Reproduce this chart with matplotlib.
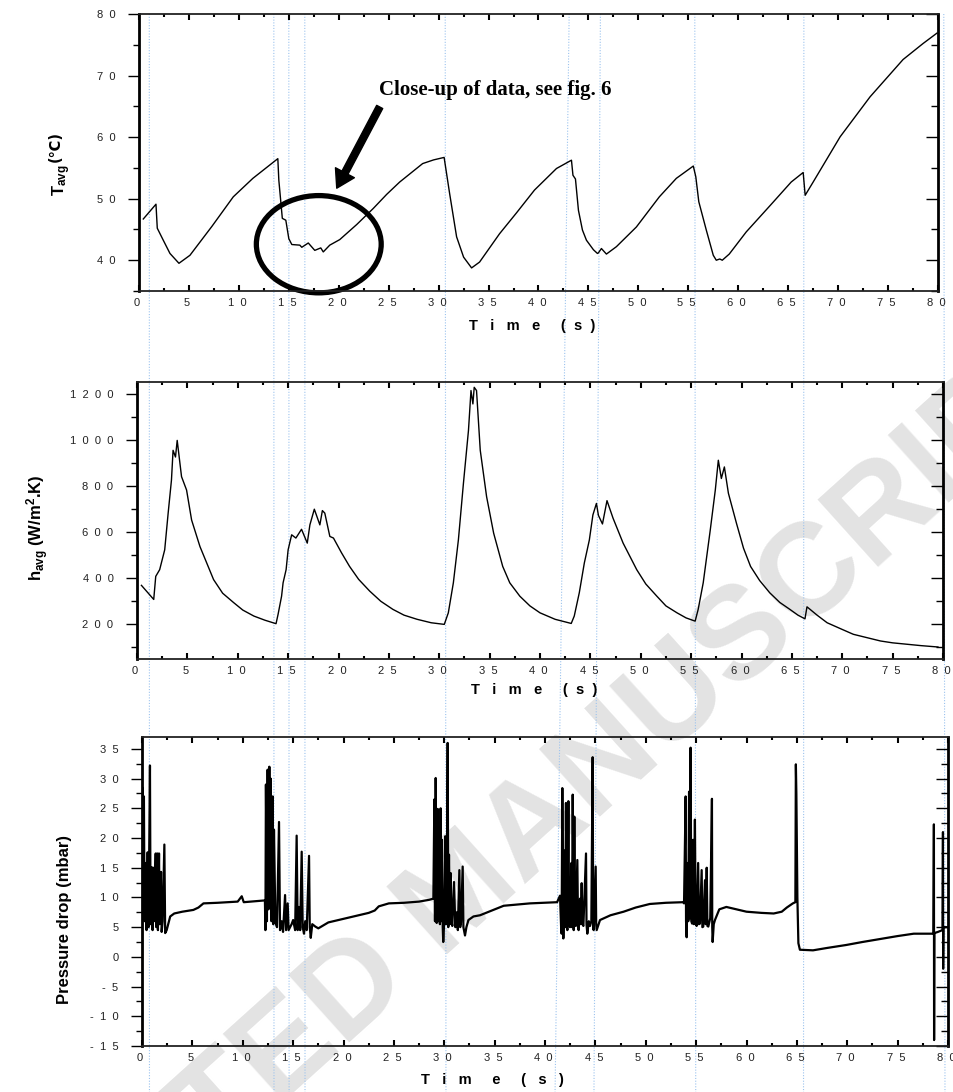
import matplotlib
matplotlib.use('Agg')
import matplotlib.pyplot as plt
from matplotlib.ticker import MultipleLocator, FuncFormatter
from matplotlib.patches import Ellipse
from matplotlib.lines import Line2D

plt.rcParams['font.family'] = ['Liberation Sans', 'DejaVu Sans']
plt.rcParams['mathtext.fontset'] = 'custom'
plt.rcParams['mathtext.rm'] = 'Liberation Sans'
plt.rcParams['mathtext.bf'] = 'Liberation Sans:bold'
plt.rcParams['mathtext.it'] = 'Liberation Sans:italic'

# ---------------- data ----------------
t_T = [0.43, 1.7, 1.83, 2.43, 3.1, 4.0, 5.1, 7.3, 9.44, 11.4, 13.9, 14.0, 14.35, 14.7,
       15.0, 15.3, 16.1, 16.3, 16.95, 17.6, 18.2, 18.45, 19.1, 20.1, 21.8, 23.45, 24.8,
       26.1, 28.4, 29.5, 30.55, 31.1, 31.8, 32.5, 33.3, 34.1, 36.1, 37.8, 39.6, 41.8, 43.3,
       43.45, 43.7, 44.0, 44.4, 44.8, 45.5, 45.9, 46.0, 46.3, 46.8, 47.8, 49.8, 52.1, 53.8,
       55.5, 55.75, 56.05, 56.8, 57.5, 57.8, 58.15, 58.4, 59.1, 60.8, 63.2, 65.3, 66.5,
       66.7, 67.5, 70.2, 73.2, 76.5, 78.5, 79.9]
T_avg = [46.7, 49.1, 45.2, 43.25, 41.1, 39.5, 40.8, 45.5, 50.3, 53.3, 56.5, 53.0, 46.8, 46.5,
         43.5, 42.55, 42.45, 42.1, 42.8, 41.6, 42.0, 41.35, 42.45, 43.35, 45.8, 48.4, 50.7,
         52.7, 55.7, 56.3, 56.7, 50.85, 43.8, 40.5, 38.75, 39.7, 44.3, 47.7, 51.4, 54.9, 56.25,
         53.8, 53.2, 48.1, 44.9, 43.25, 41.7, 41.1, 41.2, 41.9, 41.0, 42.2, 45.4, 50.3, 53.3,
         55.3, 53.55, 49.5, 44.9, 40.8, 40.0, 40.2, 40.0, 41.0, 44.6, 48.9, 52.7, 54.25,
         50.55, 52.7, 60.05, 66.55, 72.6, 75.2, 76.9]

t_h = [0.44, 1.66, 1.86, 2.25, 2.75, 3.09, 3.42, 3.58, 3.82, 3.99, 4.42, 4.92, 5.42, 6.25,
       7.6, 8.5, 9.6, 10.5, 11.6, 12.7, 13.8, 14.0, 14.35, 14.5, 14.8, 15.0, 15.35, 15.77,
       16.33, 16.9, 17.16, 17.6, 18.15, 18.4, 18.64, 19.14, 19.5, 20.3, 21.1, 22.0, 23.1,
       24.2, 25.4, 26.5, 27.8, 29.2, 30.5, 30.9, 31.4, 31.9, 32.4, 32.9, 33.15, 33.34,
       33.47, 33.7, 34.07, 34.7, 35.4, 36.3, 37.0, 38.0, 39.0, 40.0, 41.5, 43.1, 43.4,
       43.9, 44.4, 44.9, 45.25, 45.6, 45.8, 46.2, 46.65, 47.25, 48.25, 49.6, 50.5, 51.6,
       52.5, 53.6, 54.5, 55.4, 55.7, 56.2, 56.9, 57.4, 57.7, 58.0, 58.3, 58.7, 59.5, 60.2,
       60.9, 61.8, 62.8, 63.8, 64.8, 65.6, 66.3, 66.5, 67.5, 68.5, 70.0, 71.1, 73.8, 75.0,
       76.4, 77.8, 79.5]
h_avg = [369, 308, 408, 437, 523, 681, 825, 954, 925, 997, 840, 782, 652, 537,
         394, 335, 294, 262, 236, 218, 203, 243, 322, 380, 437, 523, 588, 574,
         612, 552, 631, 699, 631, 693, 682, 581, 574, 510, 451, 395, 344,
         300, 265, 240, 222, 207, 200, 250, 380, 566, 811, 1040, 1213, 1155,
         1227, 1213, 954, 753, 595, 451, 380, 322, 280, 250, 222, 204, 236,
         337, 466, 566, 674, 724, 672, 635, 736, 660, 552, 437, 375, 322,
         280, 250, 228, 214, 265, 380, 609, 782, 911, 832, 882, 768, 638, 530,
         451, 390, 337, 295, 265, 240, 224, 276, 240, 207, 178, 157, 128, 120,
         114, 108, 102]

t_p = [0.0, 0.03, 0.05, 0.1, 0.19, 0.25, 0.39, 0.45, 0.56, 0.65, 0.79, 0.85, 0.96, 1.05,
       1.12, 1.2, 1.36, 1.42, 1.52, 1.58, 1.69, 1.75, 1.89, 1.95, 2.05, 2.22, 2.3, 2.45,
       2.6, 2.8, 3.2, 4.0, 5.1, 5.6, 6.1, 7.5, 8.5, 9.5, 9.9, 10.1, 12.2,
       12.25, 12.3, 12.4, 12.47, 12.55, 12.64, 12.7, 12.77, 12.85, 12.97, 13.03, 13.1,
       13.24, 13.4, 13.6, 13.7, 13.86, 14.0, 14.2, 14.3, 14.46, 14.55, 14.7, 14.85, 15.0,
       15.2, 15.35, 15.45, 15.58, 15.7, 15.85, 15.95, 16.08, 16.2, 16.35, 16.58, 16.65,
       16.75, 16.9, 17.2, 17.5, 18.0, 18.5, 19.5, 20.5, 21.5, 22.5, 23.1, 23.5, 24.5, 26.0,
       27.5, 28.5, 28.92,
       29.02, 29.08, 29.15, 29.25, 29.35, 29.42, 29.5, 29.57, 29.64, 29.7, 29.77, 29.85,
       29.9, 30.0, 30.1, 30.18, 30.24, 30.34, 30.4, 30.47, 30.55, 30.64, 30.72, 30.8,
       30.97, 31.1, 31.23, 31.35, 31.5, 31.58, 31.66, 31.83, 31.9, 32.06, 32.2, 32.4,
       32.9, 33.55, 35.9, 38.5, 41.2,
       41.49, 41.6, 41.65, 41.72, 41.82, 41.95, 42.02, 42.08, 42.15, 42.22, 42.32, 42.4,
       42.48, 42.62, 42.68, 42.75, 42.85, 42.91, 42.98, 43.05, 43.21, 43.28, 43.34, 43.48,
       43.55, 43.64, 43.72, 43.81, 44.07, 44.12, 44.2, 44.35, 44.47, 44.6, 44.73, 44.78,
       44.83, 45.03, 45.08, 45.13, 45.46, 46.5, 47.8, 49.0, 50.4, 52.0, 53.7,
       53.8, 53.96, 54.0, 54.06, 54.16, 54.22, 54.3, 54.38, 54.45, 54.52, 54.6, 54.7,
       54.78, 54.88, 54.95, 55.05, 55.2, 55.28, 55.38, 55.55, 55.62, 55.71, 55.88, 55.95,
       56.05, 56.12, 56.21, 56.4, 56.57, 56.6, 56.64, 56.75, 56.87, 57.3, 58.0, 59.0,
       60.0, 61.5, 62.7, 63.5, 64.0, 64.6, 64.85, 64.9, 64.95, 65.05, 65.15, 65.3, 66.6,
       68.0, 69.9, 71.5, 73.25, 75.0, 76.6, 78.55, 78.6, 78.62, 78.65, 79.0, 79.45, 79.5,
       79.52, 79.55, 80.0]
p_drop = [-0.3, 12, 28.5, 8, 27, 6, 15.8, 4.5, 17.6, 5, 32.2, 5.5, 15.1, 4.5,
          15, 6, 17.4, 5, 17.4, 4.5, 17.4, 5.5, 14.3, 4.2, 6, 18.9, 4, 4.5,
          5.5, 6.8, 7.3, 7.6, 7.9, 8.3, 9.0, 9.1, 9.2, 9.3, 10.2, 9.2, 9.5,
          4.5, 29, 6, 31.5, 8, 32, 10, 30, 6, 27, 5.5, 21.4,
          5.8, 5, 22.7, 4.5, 6, 4.2, 10.4, 4.5, 9.0, 4.5, 5.0, 5.5, 6.2,
          4.5, 20.4, 4.5, 8.4, 4.5, 17.7, 5, 3.9, 6, 4.5, 17.0, 5,
          3.2, 5.5, 5.1, 4.8, 5.3, 5.8, 6.2, 6.6, 7.0, 7.4, 7.8, 8.5, 9.0, 9.1,
          9.3, 9.6, 9.8,
          26.5, 6, 30.1, 5.7, 24.9, 6, 20.3, 5.5, 25, 6, 19.7, 5,
          2.5, 6, 20.3, 5.5, 6.5, 36, 5, 17.2, 5.5, 14.1, 6, 5.2,
          12.6, 5, 7.5, 4.5, 14.6, 5, 5.8, 15.2, 5, 3.6, 5, 6.2,
          6.8, 7.0, 8.6, 9.0, 9.2,
          10.3, 5, 3.9, 28.4, 3.1, 17.9, 5, 25.9, 6, 4.5, 26.2, 5.5,
          5, 15.8, 5, 27.3, 4.5, 23.6, 6, 5.2, 16.3, 5, 4.5, 9.8,
          5.5, 12.4, 5.5, 5.2, 17.4, 5.5, 3.9, 6, 5.2, 6, 33.6, 5,
          4.5, 15.2, 5.5, 4.5, 6.2, 7.0, 7.6, 8.3, 8.9, 9.1, 9.2,
          9.0, 27.0, 6, 3.3, 15.8, 6, 27.8, 6.5, 35.2, 6, 5.6, 19.7,
          5.5, 23.1, 6, 5.2, 15.8, 5.5, 5.6, 14.6, 5, 5.1, 12.9, 5.5,
          15.0, 5.2, 5.1, 6.5, 26.6, 5, 2.5, 5.5, 6.2, 8.0, 8.4, 8.0,
          7.6, 7.4, 7.3, 7.6, 8.3, 9.0, 9.2, 32.4, 27.4, 10, 2.3, 1.2, 1.1,
          1.5, 2.0, 2.5, 3.0, 3.5, 3.9, 3.9, 22.3, -14.0, 4.0, 4.2, 4.5, 21.0,
          -2.0, 5.0, 5.0]

# guide lines: time where each dotted line meets the top panel's top edge / figure bottom
guide_t_top = [1.03, 13.5, 15.0, 16.6, 30.66, 43.07, 46.2, 55.65, 66.57, 80.58]
guide_t_bottom = [0.74, 13.1, 14.6, 16.18, 30.17, 41.0, 44.86, 54.96, 65.66, 79.7]

W, H = 954, 1092
fig = plt.figure(figsize=(W / 100, H / 100), dpi=100)
fig.patch.set_facecolor('white')


def rect(l, t, r, b):
    return [l / W, 1 - b / H, (r - l) / W, (b - t) / H]


def spaced_x(v, pos):
    s = str(int(round(v)))
    return '  '.join(s) + ' '


def spaced_y(v, pos):
    s = str(int(round(v)))
    return '  '.join(s)


def style(ax, ylim, ymaj, ymin):
    ax.set_xlim(0, 80)
    ax.set_ylim(*ylim)
    ax.set_facecolor('none')
    ax.xaxis.set_major_locator(MultipleLocator(5))
    ax.xaxis.set_minor_locator(MultipleLocator(2.5))
    ax.yaxis.set_major_locator(MultipleLocator(ymaj))
    ax.yaxis.set_minor_locator(MultipleLocator(ymin))
    ax.xaxis.set_major_formatter(FuncFormatter(spaced_x))
    ax.yaxis.set_major_formatter(FuncFormatter(spaced_y))
    ax.tick_params(axis='x', which='both', direction='in', top=True, bottom=True,
                   labelsize=8, pad=5, width=1.5, color='black', labelcolor='#222222')
    ax.tick_params(axis='x', which='major', length=4.5)
    ax.tick_params(axis='x', which='minor', length=2.5)
    ax.tick_params(axis='y', which='both', direction='out', left=True, right=False,
                   labelsize=8, pad=9, width=1.0, labelcolor='#222222')
    ax.tick_params(axis='y', which='major', length=8)
    ax.tick_params(axis='y', which='minor', length=4.5)
    for s in ['top', 'bottom']:
        ax.spines[s].set_linewidth(1.3)
        ax.spines[s].set_color('#222222')
    ax.spines['left'].set_linewidth(2.0)
    ax.spines['right'].set_visible(False)
    sec = ax.secondary_yaxis('right')
    sec.yaxis.set_major_locator(MultipleLocator(ymaj))
    sec.yaxis.set_minor_locator(MultipleLocator(ymin))
    sec.tick_params(axis='y', which='both', direction='in', labelright=False, width=1.0)
    sec.tick_params(axis='y', which='major', length=9)
    sec.tick_params(axis='y', which='minor', length=5)
    sec.spines['right'].set_linewidth(2.0)
    return sec


def xlabel(y_px, x_px, text):
    fig.text(x_px / W, 1 - y_px / H, text, fontsize=10.5,
             fontweight='bold', ha='center', va='center')


ax1 = fig.add_axes(rect(139, 14, 938, 291))
style(ax1, (35, 80), 10, 5)
ax1.plot(t_T, T_avg, color='black', lw=1.0)
xlabel(326, 532, 'T   i   m   e     (  s  )')
fig.text(62 / W, 1 - 180 / H, r'$\mathbf{T_{avg}}$', rotation=90, fontsize=12,
         fontweight='bold', ha='center', va='center')
fig.text(55 / W, 1 - 146 / H, '(℃)', rotation=90, fontsize=10.5,
         fontweight='bold', family=['DejaVu Sans'], ha='center', va='center')
ax1.text(35.7, 67.6, 'Close-up of data, see fig. 6', family='Liberation Serif',
         fontweight='bold', fontsize=15, ha='center', va='center')
ax1.annotate('', xy=(19.8, 51.7), xytext=(24.1, 64.9),
             arrowprops=dict(arrowstyle='simple,head_width=1.1,head_length=0.9,tail_width=0.35',
                             color='black', mutation_scale=14, shrinkA=0, shrinkB=0))
ax1.add_patch(Ellipse((18.0, 42.6), 12.5, 15.8, fill=False, lw=3.8, color='black',
                      clip_on=False))

ax2 = fig.add_axes(rect(137, 382, 943, 659))
style(ax2, (50, 1250), 200, 100)
ax2.plot(t_h, h_avg, color='black', lw=1.0)
xlabel(690, 534, 'T   i   m   e     (  s  )')
fig.text(38 / W, 1 - 528 / H, r'$\mathbf{h_{avg}}$ (W/m$^{\mathbf{2}}$.K)', rotation=90,
         fontsize=12, fontweight='bold', ha='center', va='center')

ax3 = fig.add_axes(rect(142, 737, 948, 1046))
style(ax3, (-15, 37), 5, 2.5)
ax3.plot(t_p, p_drop, color='black', lw=1.6)
xlabel(1080, 492, 'T   i   m     e     (   s   )')
fig.text(65 / W, 1 - 920 / H, 'Pressure drop (mbar)', rotation=90,
         fontsize=12, fontweight='bold', ha='center', va='center')

# watermark
fig.text(462 / W, 1 - 895 / H, 'ACCEPTED MANUSCRIPT', rotation=42, fontsize=95,
         fontweight='bold', color='#e3e3e3', ha='center', va='center',
         rotation_mode='anchor', zorder=-5)

# dotted guide lines
inv = fig.transFigure.inverted()
for tt, tb in zip(guide_t_top, guide_t_bottom):
    x0, y0 = ax1.transData.transform((tt, 80))
    x1, _ = ax3.transData.transform((tb, -15))
    p0 = inv.transform((x0, y0))
    p1 = inv.transform((x1, 0))
    fig.add_artist(Line2D([p0[0], p1[0]], [p0[1], 0], transform=fig.transFigure,
                          color='#9cc3ee', lw=0.8, ls=(0, (1, 1.5)), zorder=-1))

fig.savefig('out.png', dpi=100)
